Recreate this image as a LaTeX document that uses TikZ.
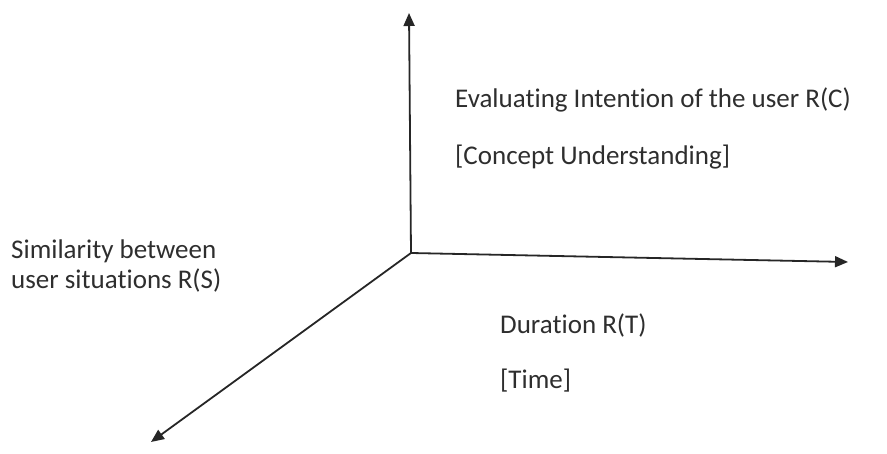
\documentclass[tikz,border=0pt]{standalone}
\usepackage{fontspec}
\setmainfont{Carlito}[Ligatures=NoCommon]
\usetikzlibrary{arrows.meta}
\begin{document}
\begin{tikzpicture}[x=1pt,y=-1pt,
  axis/.style={draw=black!85,line width=1.8pt,-{Triangle[length=13pt,width=11pt]}},
  lbl/.style={anchor=base west,inner sep=0pt,text=black!82,font=\fontsize{27}{32}\selectfont}]
  \useasboundingbox (0,0) rectangle (887,454);
  % axes from a common origin
  \coordinate (o) at (411,253);
  \coordinate (up) at (409,13);
  \coordinate (rt) at (848,262);
  \coordinate (dl) at (151,442);
  \draw[axis] (o) -- (up);
  \draw[axis] (o) -- (rt);
  \draw[axis] (o) -- (dl);
  % axis captions
  \node[lbl] (c1) at (455,108) {Evaluating Intention of the user R(C)};
  \node[lbl] (c2) at (455,165) {[Concept Understanding]};
  \node[lbl] (s1) at (11,259) {Similarity between};
  \node[lbl] (s2) at (11,289) {user situations R(S)};
  \node[lbl] (t1) at (500,334) {Duration R(T)};
  \node[lbl] (t2) at (500,389) {[Time]};
\end{tikzpicture}
\end{document}
